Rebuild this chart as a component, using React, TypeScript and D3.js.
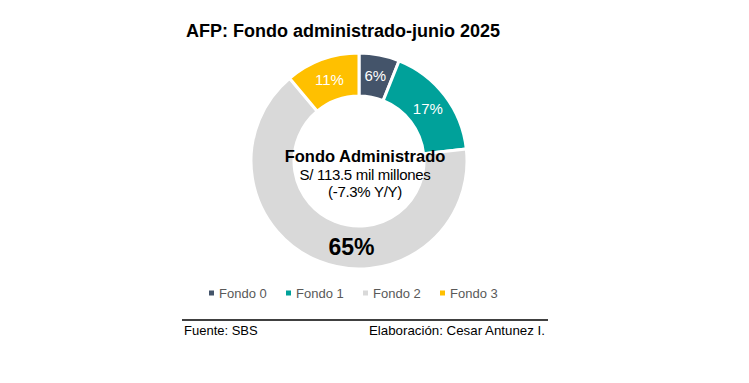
import React from "react";
import * as d3 from "d3";

const categories = ["Fondo 0", "Fondo 1", "Fondo 2", "Fondo 3"];
const values = [6, 17, 65, 11];
const colors = ["#44546A", "#00A19A", "#D9D9D9", "#FFC000"];
const title = "AFP: Fondo administrado-junio 2025";
const centerLines = ["Fondo Administrado", "S/ 113.5 mil millones", "(-7.3% Y/Y)"];
const source = "Fuente: SBS";
const credit = "Elaboración: Cesar Antunez I.";

const W = 749;
const H = 383;
const cx = 359;
const cy = 161;
const R = 108;
const r = 65;
const FONT = "'Liberation Sans', Arial, sans-serif";

export default function App() {
  const pie = d3.pie<number>().sort(null).value((d) => d);
  const arcs = pie(values);
  const arc = d3.arc<d3.PieArcDatum<number>>().innerRadius(r).outerRadius(R);
  const labelArc = d3.arc<d3.PieArcDatum<number>>().innerRadius((R + r) / 2).outerRadius((R + r) / 2);

  const legendX = [209, 286, 363, 440];

  return (
    <svg width={W} height={H} style={{ position: "absolute", left: 0, top: 0, background: "#fff" }} fontFamily={FONT}>
      <text x={186} y={37} fontSize={18} fontWeight="bold" fill="#000">{title}</text>
      <g transform={`translate(${cx},${cy})`}>
        {arcs.map((a, i) => (
          <path key={i} d={arc(a) || ""} fill={colors[i]} stroke="#fff" strokeWidth={3} />
        ))}
        {arcs.map((a, i) => {
          if (i === 2) {
            const ang = Math.PI * (185 / 180);
            const rr = (R + r) / 2;
            const x = Math.sin(ang) * rr;
            const y = -Math.cos(ang) * rr;
            return (
              <text key={i} x={x} y={y} dy="0.35em" textAnchor="middle" fontSize={23} fontWeight="bold" fill="#000">
                {`${values[i]}%`}
              </text>
            );
          }
          const [x, y] = labelArc.centroid(a);
          return (
            <text key={i} x={x} y={y} dy="0.35em" textAnchor="middle" fontSize={15} fill="#fff">
              {`${values[i]}%`}
            </text>
          );
        })}
        <text x={6} y={1} textAnchor="middle" fontSize={16.5} fontWeight="bold" fill="#000">{centerLines[0]}</text>
        <text x={6} y={19} textAnchor="middle" fontSize={15} fill="#000" letterSpacing={-0.3}>{centerLines[1]}</text>
        <text x={6} y={36} textAnchor="middle" fontSize={15} fill="#000" letterSpacing={-0.3}>{centerLines[2]}</text>
      </g>
      {categories.map((c, i) => (
        <g key={c} transform={`translate(${legendX[i]},293)`}>
          <rect x={0} y={-2.5} width={5} height={5} fill={colors[i]} />
          <text x={10} y={0} dy="0.35em" fontSize={13} fill="#595959">{c}</text>
        </g>
      ))}
      <line x1={182} x2={548} y1={320} y2={320} stroke="#000" strokeWidth={1.5} />
      <text x={184} y={335} fontSize={13} fill="#000">{source}</text>
      <text x={369} y={335} fontSize={13.3} fill="#000">{credit}</text>
    </svg>
  );
}
